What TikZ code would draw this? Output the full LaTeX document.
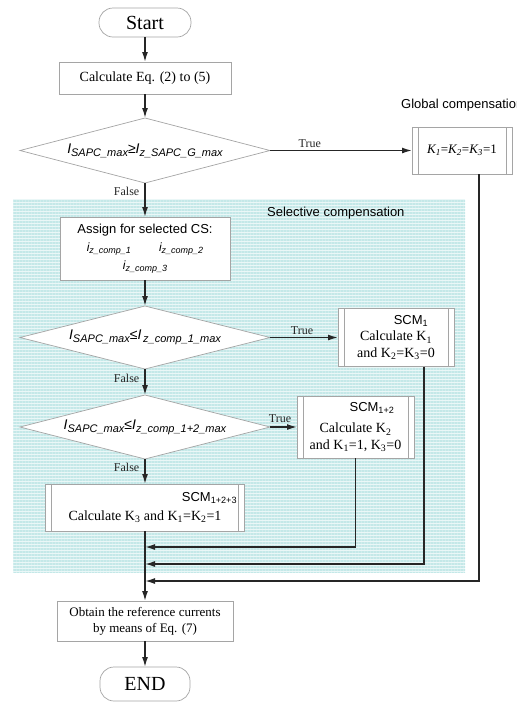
\documentclass[tikz,border=0pt]{standalone}
\usepackage{fontspec}
\setmainfont{Liberation Serif}
\setsansfont{Liberation Sans}
\usetikzlibrary{shapes.geometric,arrows.meta,positioning,patterns.meta}
\definecolor{boxgray}{RGB}{165,165,165}
\definecolor{selcyan}{RGB}{234,247,247}
\definecolor{stripecyan}{RGB}{196,232,232}
\newcommand{\dsub}[1]{\raisebox{-3pt}{\fontsize{11}{12}\selectfont#1}}
\newcommand{\isub}[1]{\raisebox{-2.5pt}{\fontsize{9}{10}\selectfont#1}}
\tikzstyle{term} = [rectangle, rounded corners=14pt, draw=boxgray, fill=white, line width=0.7pt, inner sep=0pt, outer sep=0pt, font=\fontsize{20}{22}\selectfont]
\tikzstyle{proc} = [rectangle, draw=boxgray, fill=white, line width=0.7pt, inner sep=0pt, outer sep=0pt, align=center, font=\fontsize{14}{16.5}\selectfont]
\tikzstyle{subproc} = [proc, path picture={\draw[boxgray, line width=0.7pt] ([xshift=6pt]path picture bounding box.north west) -- ([xshift=6pt]path picture bounding box.south west) ([xshift=-6pt]path picture bounding box.north east) -- ([xshift=-6pt]path picture bounding box.south east);}]
\tikzstyle{decision} = [diamond, aspect=3.85, draw=boxgray, fill=white, line width=0.7pt, inner sep=0pt, outer sep=0pt, minimum width=250pt, font=\sffamily\itshape\fontsize{14}{16}\selectfont]
\tikzstyle{lbl} = [font=\fontsize{12}{14}\selectfont, inner sep=2pt]
\tikzstyle{note} = [font=\sffamily\fontsize{13}{15}\selectfont, inner sep=0pt]
\tikzstyle{tedge} = [draw, line width=1.5pt, color=black!85, -{Latex[length=10pt,width=6pt]}]

\begin{document}
\begin{tikzpicture}[x=1pt, y=1pt]
\useasboundingbox (0,0) rectangle (517,-702);

% selective compensation area
\fill[selcyan] (13,-199) rectangle (465,-572);
\fill[pattern={Lines[angle=0, distance=3pt, line width=1.3pt]}, pattern color=stripecyan] (13,-199) rectangle (465,-572);
\node[note, anchor=west] (seltxt) at (267,-213) {Selective compensation};
\node[note, anchor=west] (globtxt) at (401,-105) {Global compensation};

% main column ===========================
\node[term, minimum width=92pt, minimum height=29pt] (start) at (145,-22.5) {Start};
\node[proc, minimum width=172pt, minimum height=32pt, below=25pt of start] (calc) {Calculate Eq. (2) to (5)};
\node[decision, minimum height=65pt, below=24pt of calc] (d1) {I\dsub{SAPC\_max}≥I\dsub{z\_SAPC\_G\_max}};
\node[proc, font=\sffamily\fontsize{13}{18}\selectfont, minimum width=170pt, minimum height=63pt, below=34pt of d1] (assign)
  {Assign for selected CS:\\
   {\itshape\fontsize{12}{18}\selectfont i\isub{z\_comp\_1}\hspace{28pt}i\isub{z\_comp\_2}}\\
   {\itshape\fontsize{12}{18}\selectfont i\isub{z\_comp\_3}}};
\node[decision, minimum height=63pt, below=26pt of assign] (d2) {I\dsub{SAPC\_max}≤I\dsub{\,z\_comp\_1\_max}};
\node[decision, minimum height=64pt, below=26pt of d2] (d3) {I\dsub{SAPC\_max}≤I\dsub{z\_comp\_1+2\_max}};
\node[subproc, minimum width=199pt, minimum height=47pt, below=25pt of d3] (scm3)
  {{\sffamily\fontsize{13}{15}\selectfont\hspace*{129pt}SCM\textsubscript{1+2+3}}\\[3pt]
   Calculate K\textsubscript{3} and K\textsubscript{1}=K\textsubscript{2}=1};
\node[proc, font=\fontsize{13}{16}\selectfont, minimum width=176pt, minimum height=40pt, below=70pt of scm3] (obtain)
  {Obtain the reference currents\\by means of Eq. (7)};
\node[term, minimum width=90pt, minimum height=34pt, below=26pt of obtain] (end) {END};

% right column ==========================
\node[subproc, font=\fontsize{13}{15}\selectfont, minimum width=100pt, minimum height=47pt, right=142pt of d1] (glob)
  {\textit{K\textsubscript{1}}=\textit{K\textsubscript{2}}=\textit{K\textsubscript{3}}=1};
\node[subproc, minimum width=116pt, minimum height=58pt, right=68pt of d2] (scm1)
  {{\sffamily\fontsize{13}{15}\selectfont\hspace*{30pt}SCM\textsubscript{1}}\\
   Calculate K\textsubscript{1}\\and K\textsubscript{2}=K\textsubscript{3}=0};
\node[subproc, minimum width=117pt, minimum height=62pt, right=27pt of d3] (scm12)
  {{\sffamily\fontsize{13}{15}\selectfont\hspace*{33pt}SCM\textsubscript{1+2}}\\[5pt]
   Calculate K\textsubscript{2}\\and K\textsubscript{1}=1, K\textsubscript{3}=0};

% joins on the main line
\coordinate (j1) at ([yshift=-16pt]scm3.south);
\coordinate (j2) at ([yshift=-33pt]scm3.south);
\coordinate (j3) at ([yshift=-50pt]scm3.south);

%edges
\path[tedge] (start) -- (calc);
\path[tedge] (calc) -- (d1);
\path[tedge] (d1) -- node[lbl, left, pos=0.24, xshift=-3pt] {False} (assign);
\path[tedge] (d1) -- node[lbl, above, pos=0.28] {True} (glob);
\path[tedge] (assign) -- (d2);
\path[tedge] (d2) -- node[lbl, left, pos=0.35, xshift=-3pt] {False} (d3);
\path[tedge] (d2) -- node[lbl, above, pos=0.47] {True} (scm1);
\path[tedge] (d3) -- node[lbl, left, pos=0.32, xshift=-3pt] {False} (scm3);
\path[tedge] (d3) -- node[lbl, above, pos=0.37, yshift=2pt] {True} (scm12);

\path[tedge] (scm12.south) |- (j1);
\path[tedge] ([xshift=28pt]scm1.south) |- (j2);
\path[tedge] ([xshift=17pt]glob.south) |- (j3);
\path[tedge] (scm3) -- (obtain);
\path[tedge] (obtain) -- (end);

\end{tikzpicture}
\end{document}
